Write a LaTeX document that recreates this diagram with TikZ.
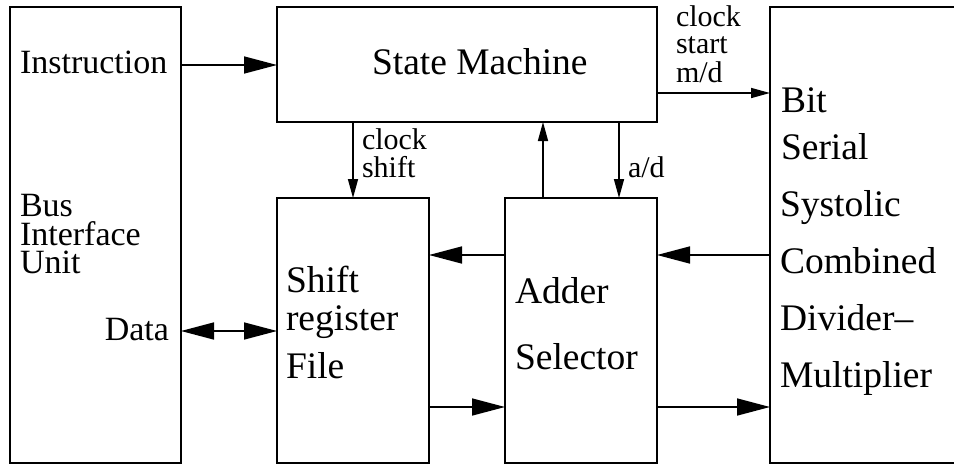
\documentclass[tikz,border=0pt]{standalone}
\usepackage{fontspec}
\setmainfont{Liberation Serif}
\usetikzlibrary{arrows.meta}
\tikzset{
  box/.style={draw, line width=1.6pt, rectangle, inner sep=0pt, outer sep=0pt, anchor=north west},
  lbl/.style={anchor=base west, inner sep=0pt, outer sep=0pt},
  lblr/.style={anchor=base east, inner sep=0pt, outer sep=0pt},
  wire/.style={line width=1.6pt},
  bigarrow/.style={wire, -{Triangle[length=33pt,width=17pt]}},
  bigboth/.style={wire, {Triangle[length=33pt,width=17pt]}-{Triangle[length=33pt,width=17pt]}},
  smallarrow/.style={wire, -{Triangle[length=19pt,width=10pt]}},
  fbig/.style={font=\fontsize{34}{34}\selectfont},
  fbox/.style={font=\fontsize{37.5}{38}\selectfont},
  fsmall/.style={font=\fontsize{30}{30}\selectfont},
}
\begin{document}
\begin{tikzpicture}[x=1pt,y=-1pt]
\useasboundingbox (0,0) rectangle (954,464);
\clip (0,0) rectangle (954,464);
% boxes
\node[box, minimum width=171pt, minimum height=456pt] (biu) at (10,7) {};
\node[box, minimum width=380pt, minimum height=115pt] (sm) at (277,7) {};
\node[box, minimum width=152pt, minimum height=265pt] (srf) at (277,198) {};
\node[box, minimum width=152pt, minimum height=265pt] (as) at (505,198) {};
\node[box, minimum width=200pt, minimum height=456pt] (bs) at (770,7) {};
% level coordinates
\coordinate (yInst) at (0,65);
\coordinate (yMD) at (0,93);
\coordinate (yMid) at (0,255);
\coordinate (yData) at (0,331);
\coordinate (yLow) at (0,407);
\coordinate (xCS) at (353,0);
\coordinate (xUp) at (543,0);
\coordinate (xAD) at (619,0);
% connectors
\draw[bigarrow] (biu.east |- yInst) -- (sm.west |- yInst);
\draw[bigboth] (biu.east |- yData) -- (srf.west |- yData);
\draw[smallarrow] (sm.south -| xCS) -- (srf.north -| xCS);
\draw[smallarrow] (as.north -| xUp) -- (sm.south -| xUp);
\draw[smallarrow] (sm.south -| xAD) -- (as.north -| xAD);
\draw[smallarrow] (sm.east |- yMD) -- (bs.west |- yMD);
\draw[bigarrow] (as.west |- yMid) -- (srf.east |- yMid);
\draw[bigarrow] (bs.west |- yMid) -- (as.east |- yMid);
\draw[bigarrow] (srf.east |- yLow) -- (as.west |- yLow);
\draw[bigarrow] (as.east |- yLow) -- (bs.west |- yLow);
% texts
\node[lbl, fbig] (tInst) at (20,73) {Instruction};
\node[lbl, fbig] (tBus) at (20,216) {Bus};
\node[lbl, fbig] (tInt) at (20,245) {Interface};
\node[lbl, fbig] (tUnit) at (20,273) {Unit};
\node[lblr, fbig] (tData) at (169,340) {Data};
\node[lbl, fbox] (tSM) at (372,74) {State Machine};
\node[lbl, fsmall] (tCk1) at (362,149) {clock};
\node[lbl, fsmall] (tSh) at (362,177) {shift};
\node[lbl, fsmall] (tAD) at (628,177) {a/d};
\node[lbl, fsmall] (tCk2) at (676,26) {clock};
\node[lbl, fsmall] (tSt) at (676,53) {start};
\node[lbl, fsmall] (tMD) at (676,82) {m/d};
\node[lbl, fbox] (tShift) at (286,292) {Shift};
\node[lbl, fbox] (tReg) at (286,330) {register};
\node[lbl, fbox] (tFile) at (286,378) {File};
\node[lbl, fbox] (tAdd) at (515,303) {Adder};
\node[lbl, fbox] (tSel) at (515,369) {Selector};
\node[lbl, fbox] (tBit) at (781,112) {Bit};
\node[lbl, fbox] (tSer) at (781,159) {Serial};
\node[lbl, fbox] (tSys) at (780,216) {Systolic};
\node[lbl, fbox] (tCom) at (780,273) {Combined};
\node[lbl, fbox] (tDiv) at (780,330) {Divider--};
\node[lbl, fbox] (tMul) at (780,387) {Multiplier};
\end{tikzpicture}
\end{document}
